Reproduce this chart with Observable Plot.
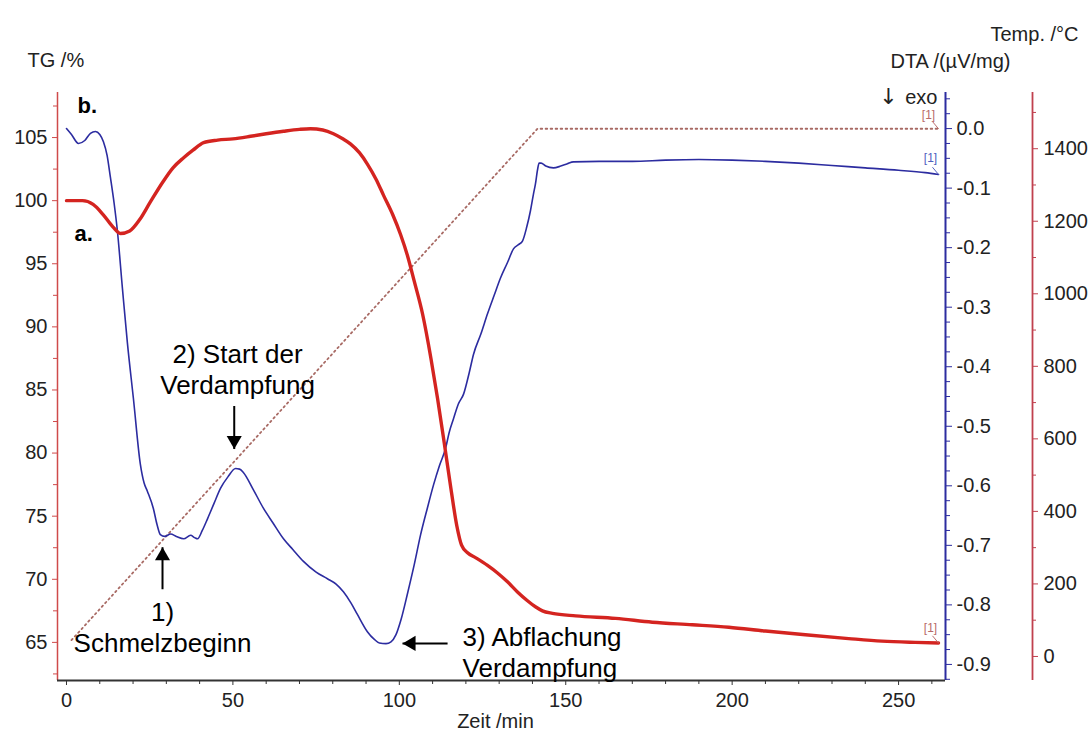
<!DOCTYPE html>
<html>
<head>
<meta charset="utf-8">
<script src="https://cdn.jsdelivr.net/npm/d3@7"></script>
<script src="https://cdn.jsdelivr.net/npm/@observablehq/plot@0.6"></script>
<style>
  html, body { margin: 0; padding: 0; background: #fff; }
  #chart svg { display: block; }
</style>
</head>
<body>
<div id="chart"></div>
<script>
// ---------- data ----------
// TG curve (mass, %) vs time (min)
const tgTime = [0, 2, 4.8, 8, 11, 14, 16.2, 19, 22, 25.2, 29, 32, 35.2, 38, 41.2, 45.4, 50, 55.3, 60, 65.2,
  70, 73.3, 77, 80.2, 83, 85.3, 88, 90.4, 93, 95.3, 98, 100.4, 102.5, 104.5, 107, 109.5, 111.5, 113.5, 115.5, 117.3,
  118.7, 120.5, 123, 126.5, 129.5, 132.5, 135.5, 138.5, 141, 143, 146, 153, 165, 176, 188, 199, 210, 222, 235, 245,
  255, 262];
const tgValue = [100.0, 100.0, 100.0, 99.7, 98.9, 97.9, 97.4, 97.6, 98.5, 99.9, 101.5, 102.6, 103.4, 104.0, 104.6, 104.8, 104.9, 105.1, 105.3, 105.5,
  105.65, 105.7, 105.6, 105.3, 104.9, 104.5, 103.8, 102.9, 101.7, 100.4, 98.9, 97.3, 95.6, 93.6, 91.0, 87.5, 84.3, 80.8, 77.2, 74.2,
  72.7, 72.1, 71.7, 71.1, 70.5, 69.8, 69.0, 68.3, 67.8, 67.5, 67.3, 67.1, 66.9, 66.6, 66.4, 66.2, 65.9, 65.6, 65.3, 65.1,
  65.0, 64.95];

// DTA curve (µV/mg) vs time (min)
const dtaTime = [0, 1.5, 3.6, 5.5, 7.2, 8.7, 10, 11.1, 12.2, 13.2,
  14.3, 15.3, 16.8, 18.3, 20.1, 22.2, 23.3, 24.3, 26.1, 27.2,
  28.2, 29.5, 31.3, 33, 35.2, 37.3, 38.5, 39.4, 40.8, 42.4,
  44.3, 46.3, 48.5, 50.8, 52, 53.2, 56, 59.2, 62, 65.2,
  68, 71.2, 75, 78.4, 81, 83.2, 85.5, 87.4, 90.4, 92.5,
  94, 96, 97.5, 99, 100.5, 102.5, 104.5, 106.4, 108.4, 110.3,
  112, 113.9, 115, 116.3, 117.7, 119.3, 121, 122.3, 124.5, 126.5,
  128.5, 130.4, 132.5, 134.3, 135.8, 137, 138.3, 139.4, 140.3, 140.9,
  141.5, 142, 142.6, 144, 146.3, 148.5, 150.5, 152.3, 160, 170,
  180, 190, 200, 210, 220, 230, 240, 250, 258, 262];
const dtaValue = [0, -0.01, -0.025, -0.02, -0.008, -0.005, -0.01, -0.022, -0.045, -0.082,
  -0.125, -0.172, -0.268, -0.36, -0.453, -0.564, -0.595, -0.609, -0.638, -0.665,
  -0.682, -0.685, -0.681, -0.685, -0.689, -0.683, -0.687, -0.689, -0.675, -0.655,
  -0.63, -0.604, -0.585, -0.571, -0.572, -0.578, -0.605, -0.638, -0.662, -0.689,
  -0.707, -0.727, -0.745, -0.756, -0.765, -0.778, -0.797, -0.816, -0.845, -0.858,
  -0.864, -0.865, -0.862, -0.85, -0.825, -0.78, -0.732, -0.682, -0.638, -0.598,
  -0.567, -0.537, -0.51, -0.487, -0.463, -0.446, -0.41, -0.379, -0.345, -0.311,
  -0.28, -0.251, -0.225, -0.202, -0.195, -0.189, -0.165, -0.138, -0.11, -0.093,
  -0.07, -0.058, -0.058, -0.063, -0.066, -0.063, -0.059, -0.056, -0.055, -0.055,
  -0.053, -0.052, -0.053, -0.055, -0.058, -0.062, -0.066, -0.07, -0.074, -0.077];

// Temperature programme (°C) vs time (min)
const tempTime = [1.5, 141.5, 262];
const tempValue = [45, 1455, 1455];

// tick values
const xTicks = [0, 50, 100, 150, 200, 250];
const xMinorTicks = [10, 20, 30, 40, 60, 70, 80, 90, 110, 120, 130, 140, 160, 170, 180, 190, 210, 220, 230, 240, 260];
const tgTicks = [65, 70, 75, 80, 85, 90, 95, 100, 105];
const tgMinorTicks = [62.5, 67.5, 72.5, 77.5, 82.5, 87.5, 92.5, 97.5, 102.5, 107.5];
const dtaTicks = [0, -0.1, -0.2, -0.3, -0.4, -0.5, -0.6, -0.7, -0.8, -0.9];
const dtaMinorTicks = [0.05, 0.025, -0.025, -0.05, -0.075, -0.125, -0.15, -0.175, -0.225, -0.25, -0.275,
  -0.325, -0.35, -0.375, -0.425, -0.45, -0.475, -0.525, -0.55, -0.575, -0.625, -0.65, -0.675,
  -0.725, -0.75, -0.775, -0.825, -0.85, -0.875, -0.925];
const tempTicks = [0, 200, 400, 600, 800, 1000, 1200, 1400];
const tempMinorTicks = [100, 300, 500, 700, 900, 1100, 1300, 1500];

// annotations
const noteText = ["2) Start der\nVerdampfung", "1)\nSchmelzbeginn", "3) Abflachung\nVerdampfung"];
const noteTime = [51.4, 28.85, 119.0];
const noteTG = [86.7, 66.23, 64.3];
const noteAnchor = ["middle", "middle", "start"];

const arrowTailTime = [50.4, 28.85, 114.5];
const arrowTailTG = [83.73, 69.21, 64.92];
const arrowTipTime = [50.4, 28.85, 100.96];
const arrowTipTG = [80.32, 72.54, 64.92];
const arrowDir = [180, 0, -90];

const curveLabels = ["b.", "a."];
const curveLabelTime = [3.3, 2.4];
const curveLabelTG = [107.5, 97.4];

// ---------- scales ----------
const xDomain = [-2.7, 264.1];
const tgDomain = [61.98, 108.57];
const dtaDomain = [-0.927, 0.0606];
const tempDomain = [-66.3, 1555];
const dtaToTG = d3.scaleLinear(dtaDomain, tgDomain);
const tempToTG = d3.scaleLinear(tempDomain, tgDomain);

const RED = "#d42420";
const BLUE = "#2c2ca0";
const DOT = "#a86a64";
const RED_AXIS = "#cf4a4a";
const TEMP_AXIS = "#c0404e";
const TEXT = "#222";

const tgData = tgTime.map((t, i) => ({t, v: tgValue[i]}));
const dtaData = dtaTime.map((t, i) => ({t, v: dtaToTG(dtaValue[i])}));
const tempData = tempTime.map((t, i) => ({t, v: tempToTG(tempValue[i])}));

const fmt1 = d => { const r = Math.round(d * 10) / 10; return (r === 0 ? 0 : r).toFixed(1); };
const dtaFmt = d => fmt1(dtaToTG.invert(d));
const tempFmt = d => String(Math.round(tempToTG.invert(d)));

const lineShape = {draw(context, l) { context.moveTo(0, 0); context.lineTo(0, -l); }};
function leader(data, opts) {
  try { return Plot.vector(data, {...opts, shape: lineShape}); }
  catch (e) { return Plot.vector(data, opts); }
}
const lastTG = tgData[tgData.length - 1];
const lastDTA = dtaData[dtaData.length - 1];
const lastTemp = tempData[tempData.length - 1];

const notes = noteText.map((s, i) => ({s, t: noteTime[i], v: noteTG[i], a: noteAnchor[i]}));
const arrows = arrowTipTime.map((t, i) => ({t1: arrowTailTime[i], v1: arrowTailTG[i], t2: t, v2: arrowTipTG[i], r: arrowDir[i]}));
const HEAD_R = 5.6;
const headOffset = HEAD_R * Math.sqrt(Math.PI) * 2 / Math.sqrt(3 * Math.sqrt(3));

const marks = [
  // temperature (dotted)
  Plot.line(tempData, {x: "t", y: "v", stroke: DOT, strokeWidth: 1.8, strokeDasharray: "1.6,3.4"}),
  // DTA
  Plot.line(dtaData, {x: "t", y: "v", stroke: BLUE, strokeWidth: 1.6, curve: "monotone-x"}),
  // TG
  Plot.line(tgData, {x: "t", y: "v", stroke: RED, strokeWidth: 3.4, curve: "monotone-x"}),

  // left TG axis
  Plot.ruleX([xDomain[0]], {stroke: RED_AXIS, strokeWidth: 1.5}),
  Plot.axisY(tgTicks, {anchor: "left", tickSize: 5, tickPadding: 5, stroke: RED_AXIS, fill: TEXT, label: null}),
  Plot.axisY(tgMinorTicks, {anchor: "left", tickSize: 4, stroke: RED_AXIS, tickFormat: () => "", label: null}),

  // DTA axis (right)
  Plot.ruleX([xDomain[1]], {stroke: BLUE, strokeWidth: 2}),
  Plot.axisY(dtaTicks.map(dtaToTG), {anchor: "right", tickSize: 6, tickPadding: 5, stroke: BLUE, fill: TEXT, tickFormat: dtaFmt, label: null}),
  Plot.axisY(dtaMinorTicks.map(dtaToTG), {anchor: "right", tickSize: 4, stroke: BLUE, tickFormat: () => "", label: null}),

  // Temperature axis (outer right)
  Plot.ruleX([xDomain[1]], {dx: 87, stroke: TEMP_AXIS, strokeWidth: 1.8}),
  Plot.axisY(tempTicks.map(tempToTG), {anchor: "right", dx: 87, tickSize: 5, tickPadding: 6, stroke: TEMP_AXIS, fill: TEXT, tickFormat: tempFmt, label: null}),
  Plot.axisY(tempMinorTicks.map(tempToTG), {anchor: "right", dx: 87, tickSize: 3, stroke: TEMP_AXIS, tickFormat: () => "", label: null}),

  // time axis
  Plot.ruleY([tgDomain[0]], {stroke: "#333", strokeWidth: 2}),
  Plot.axisX(xTicks, {anchor: "bottom", tickSize: 5, tickPadding: 7, stroke: "#333", fill: TEXT, label: null}),
  Plot.axisX(xMinorTicks, {anchor: "bottom", tickSize: 4, stroke: "#333", tickFormat: () => "", label: null}),

  // axis titles
  Plot.text(["TG /%"], {text: d => d, frameAnchor: "top-left", textAnchor: "start", dx: -30, dy: -40, fontSize: 20, fill: TEXT}),
  Plot.text(["Temp. /°C"], {text: d => d, frameAnchor: "top-right", textAnchor: "end", dx: 133, dy: -66, fontSize: 20, fill: TEXT}),
  Plot.text(["DTA /(µV/mg)"], {text: d => d, frameAnchor: "top-right", textAnchor: "end", dx: 65, dy: -39, fontSize: 20, fill: TEXT}),
  Plot.text(["exo"], {text: d => d, frameAnchor: "top-right", textAnchor: "end", dx: -8, dy: -3, fontSize: 20, fill: TEXT}),
  Plot.text(["↓"], {text: d => d, frameAnchor: "top-right", textAnchor: "middle", dx: -57, dy: -4, fontSize: 22, fontFamily: "'DejaVu Sans', sans-serif", fill: TEXT}),
  Plot.text(["Zeit /min"], {text: d => d, frameAnchor: "bottom", dx: -6, dy: 47, fontSize: 20, fill: TEXT}),

  // end-of-curve "[1]" markers
  leader([lastTemp], {x: "t", y: "v", length: 9, rotate: -40, anchor: "start", stroke: "#b86a6a", strokeWidth: 0.9}),
  leader([lastDTA], {x: "t", y: "v", length: 9, rotate: -40, anchor: "start", stroke: "#5060c0", strokeWidth: 0.9}),
  leader([lastTG], {x: "t", y: "v", length: 9, rotate: -40, anchor: "start", stroke: "#b86a6a", strokeWidth: 0.9}),
  Plot.text([lastTemp], {x: "t", y: "v", text: () => "[1]", dx: -10, dy: -14, fontSize: 12, fill: "#b86a6a"}),
  Plot.text([lastDTA], {x: "t", y: "v", text: () => "[1]", dx: -8, dy: -16, fontSize: 12, fill: "#5060c0"}),
  Plot.text([lastTG], {x: "t", y: "v", text: () => "[1]", dx: -8, dy: -15, fontSize: 12, fill: "#b86a6a"}),

  // curve labels a. / b.
  Plot.text(curveLabels, {x: (d, i) => curveLabelTime[i], y: (d, i) => curveLabelTG[i], text: d => d, textAnchor: "start", fontSize: 22, fontWeight: "bold", fill: "#000"})
];
// annotation texts (one mark per text anchor)
for (const anchor of ["middle", "start"]) {
  marks.push(Plot.text(notes.filter(n => n.a === anchor), {x: "t", y: "v", text: "s", textAnchor: anchor, fontSize: 26, lineHeight: 1.2, fill: "#000"}));
}
// arrows: shafts and filled heads
marks.push(Plot.link(arrows, {x1: "t1", y1: "v1", x2: "t2", y2: "v2", stroke: "#000", strokeWidth: 2}));
for (const a of arrows) {
  const rad = a.r * Math.PI / 180;
  marks.push(Plot.dot([a], {x: "t2", y: "v2", symbol: "triangle", r: HEAD_R, rotate: a.r, fill: "#000", stroke: "none",
    dx: -headOffset * Math.sin(rad), dy: headOffset * Math.cos(rad)}));
}

const chart = Plot.plot({
  width: 1092,
  height: 738,
  marginLeft: 57,
  marginRight: 147,
  marginTop: 92,
  marginBottom: 58,
  x: {domain: xDomain, label: null},
  y: {domain: tgDomain, label: null},
  style: {fontFamily: "'Liberation Sans', Arial, Helvetica, sans-serif", fontSize: "20px", background: "#fff", color: TEXT, overflow: "visible"},
  marks
});
document.getElementById("chart").appendChild(chart);
</script>
</body>
</html>
